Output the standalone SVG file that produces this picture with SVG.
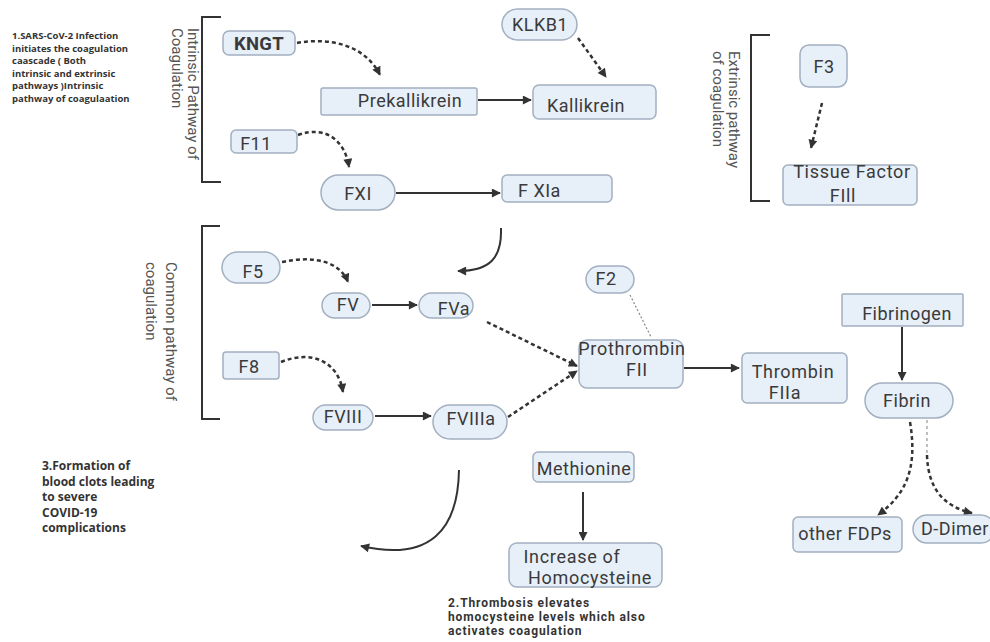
<svg xmlns="http://www.w3.org/2000/svg" width="990" height="642" viewBox="0 0 990 642">
<defs>
<marker id="ah" viewBox="0 0 10 10" refX="9" refY="5" markerWidth="10" markerHeight="9" markerUnits="userSpaceOnUse" orient="auto">
<path d="M0,0 L10,5 L0,10 z" fill="#333"/>
</marker>
<style>
.n{fill:#e7eff9;stroke:#a2b0c0;stroke-width:1.5}
.t{font-family:Roboto,"Liberation Sans",sans-serif;font-size:18px;letter-spacing:0.5px;fill:#3a3a3a;text-anchor:middle}
.l{letter-spacing:0.7px}
.st{text-anchor:start}
.b{font-weight:bold;font-size:18.5px;letter-spacing:0.3px}
.note{font-family:"Open Sans","Liberation Sans",sans-serif;font-weight:bold;fill:#333}
.note2{font-family:Roboto,"Liberation Sans",sans-serif;font-weight:bold;fill:#333;letter-spacing:0.9px}
.side{font-family:Roboto,"Liberation Sans",sans-serif;font-size:15px;fill:#555}
.br{fill:none;stroke:#333;stroke-width:2}
.s{fill:none;stroke:#333;stroke-width:2;marker-end:url(#ah)}
.d{fill:none;stroke:#333;stroke-width:2.5;stroke-dasharray:4 3;marker-end:url(#ah)}
</style>
</defs>
<rect width="990" height="642" fill="#fff"/>

<g id="note1" class="note" font-size="9.5">
<text x="12" y="39">1.SARS-CoV-2 Infection</text>
<text x="12" y="51.5">initiates the coagulation</text>
<text x="12" y="64">caascade ( Both</text>
<text x="12" y="76.5">intrinsic and extrinsic</text>
<text x="12" y="89">pathways )Intrinsic</text>
<text x="12" y="101.5">pathway of coagulaation</text>
</g>
<g id="note3" class="note" font-size="12">
<text x="42" y="470">3.Formation of</text>
<text x="42" y="485.5">blood clots leading</text>
<text x="42" y="501">to severe</text>
<text x="42" y="516.5">COVID-19</text>
<text x="42" y="532">complications</text>
</g>
<g id="note2" class="note2" font-size="12">
<text x="448" y="607">2.Thrombosis elevates</text>
<text x="448" y="621">homocysteine levels which also</text>
<text x="448" y="635">activates coagulation</text>
</g>

<g id="brackets">
<path class="br" d="M221,17 H202 V182 H221"/>
<path class="br" d="M770,35 H751 V201 H770"/>
<path class="br" d="M220,226 H202 V419 H220"/>
<text class="side" transform="translate(188,28) rotate(90)"><tspan x="0" y="0">Intrinsic Pathway of</tspan><tspan x="0" y="16">Coagulation</tspan></text>
<text class="side" transform="translate(729,51) rotate(90)"><tspan x="0" y="0">Extrinsic pathway</tspan><tspan x="0" y="16">of coagulation</tspan></text>
<text class="side" font-size="16" transform="translate(166,262) rotate(90)"><tspan x="0" y="0">Common pathway of</tspan><tspan x="0" y="20">coagulation</tspan></text>
</g>

<g id="connectors">
<path class="d" d="M297,43 C330,37 365,45 380,75"/>
<path class="d" d="M578,38 L606,77"/>
<path class="s" d="M478,100 L531,100"/>
<path class="d" d="M298,135 C325,125 345,140 349,167"/>
<path class="s" d="M396,193 L500,193"/>
<path class="d" d="M822,103 L811,148"/>
<path class="s" d="M501,228 C502,258 490,271 458,271"/>
<path class="d" d="M282,262 C315,255 340,262 348,282"/>
<path class="s" d="M372,305 L417,305"/>
<path class="d" d="M281,362 C310,350 338,360 343,392"/>
<path class="s" d="M375,416 L431,416"/>
<path class="d" d="M487,322 L577,366"/>
<path class="d" d="M508,417 L577,371"/>
<path d="M630,295 L651,337" fill="none" stroke="#888" stroke-width="1.2" stroke-dasharray="2 2"/>
<path class="s" d="M684,368 L739,368"/>
<path class="s" d="M902,327 L902,380"/>
<path class="d" d="M910,422 C918,470 905,495 878,515"/>
<path d="M927,420 L927,455" fill="none" stroke="#aaa" stroke-width="1.5" stroke-dasharray="3 3"/>
<path class="d" d="M927,455 C928,490 945,507 972,513"/>
<path class="s" d="M583,492 L583,540"/>
<path class="s" d="M459,470 C458,530 430,562 361,546"/>
</g>

<g id="KNGT"><rect class="n" x="223" y="31" width="72" height="24" rx="6"/><text class="t b" x="259" y="50">KNGT</text></g>
<g id="KLKB1"><rect class="n" x="502" y="9" width="75" height="31" rx="15.5"/><text class="t" x="540" y="31">KLKB1</text></g>
<g id="Prekallikrein"><rect class="n" x="321" y="88" width="156" height="27" rx="2"/><text class="t" x="410" y="107">Prekallikrein</text></g>
<g id="Kallikrein"><rect class="n" x="533" y="85" width="123" height="34" rx="6"/><text class="t" x="586" y="112">Kallikrein</text></g>
<g id="F11"><rect class="n" x="231" y="130" width="66" height="23" rx="5"/><text class="t" x="256" y="150">F11</text></g>
<g id="FXI"><rect class="n" x="321" y="175" width="74" height="35" rx="17.5"/><text class="t" x="358" y="200">FXI</text></g>
<g id="FXIa"><rect class="n" x="502" y="175" width="110" height="27" rx="5"/><text class="t st" x="518" y="197">F XIa</text></g>
<g id="F3"><rect class="n" x="800" y="45" width="47" height="42" rx="9"/><text class="t" x="824" y="73">F3</text></g>
<g id="TissueFactor"><rect class="n" x="783" y="165" width="134" height="40" rx="5"/><text class="t l" x="852" y="178">Tissue Factor</text><text class="t l" x="843" y="202">FIll</text></g>
<g id="F5"><rect class="n" x="222" y="252" width="58" height="31" rx="15.5"/><text class="t" x="253" y="278">F5</text></g>
<g id="FV"><rect class="n" x="322" y="293" width="48" height="25" rx="12.5"/><text class="t" x="348" y="311">FV</text></g>
<g id="FVa"><rect class="n" x="419" y="293" width="54" height="25" rx="12.5"/><text class="t" x="454" y="315">FVa</text></g>
<g id="F8"><rect class="n" x="223" y="352" width="56" height="27" rx="3"/><text class="t" x="249" y="373">F8</text></g>
<g id="FVIII"><rect class="n" x="313" y="405" width="60" height="25" rx="12.5"/><text class="t" x="343" y="423">FVIII</text></g>
<g id="FVIIIa"><rect class="n" x="433" y="405" width="74" height="34" rx="17"/><text class="t" x="471" y="425">FVIIIa</text></g>
<g id="F2"><rect class="n" x="586" y="266" width="48" height="27" rx="13.5"/><text class="t" x="606" y="285">F2</text></g>
<g id="Prothrombin"><rect class="n" x="579" y="340" width="104" height="48" rx="8"/><text class="t l" x="632" y="355">Prothrombin</text><text class="t l" x="637" y="376">FII</text></g>
<g id="Thrombin"><rect class="n" x="742" y="353" width="105" height="50" rx="5"/><text class="t l" x="793" y="378">Thrombin</text><text class="t l" x="785" y="399">FIIa</text></g>
<g id="Fibrinogen"><rect class="n" x="842" y="294" width="121" height="32" rx="1"/><text class="t" x="907" y="320">Fibrinogen</text></g>
<g id="Fibrin"><rect class="n" x="865" y="383" width="88" height="35" rx="17.5"/><text class="t" x="907" y="407">Fibrin</text></g>
<g id="Methionine"><rect class="n" x="533" y="452" width="101" height="30" rx="5"/><text class="t" x="584" y="475">Methionine</text></g>
<g id="Homocysteine"><rect class="n" x="509" y="543" width="153" height="44" rx="8"/><text class="t l" x="572" y="563">Increase of</text><text class="t l" x="590" y="584">Homocysteine</text></g>
<g id="otherFDPs"><rect class="n" x="793" y="517" width="109" height="35" rx="5"/><text class="t" x="845" y="540">other FDPs</text></g>
<g id="DDimer"><rect class="n" x="913" y="515" width="82" height="28" rx="14"/><text class="t" x="955" y="535">D-Dimer</text></g>
</svg>
